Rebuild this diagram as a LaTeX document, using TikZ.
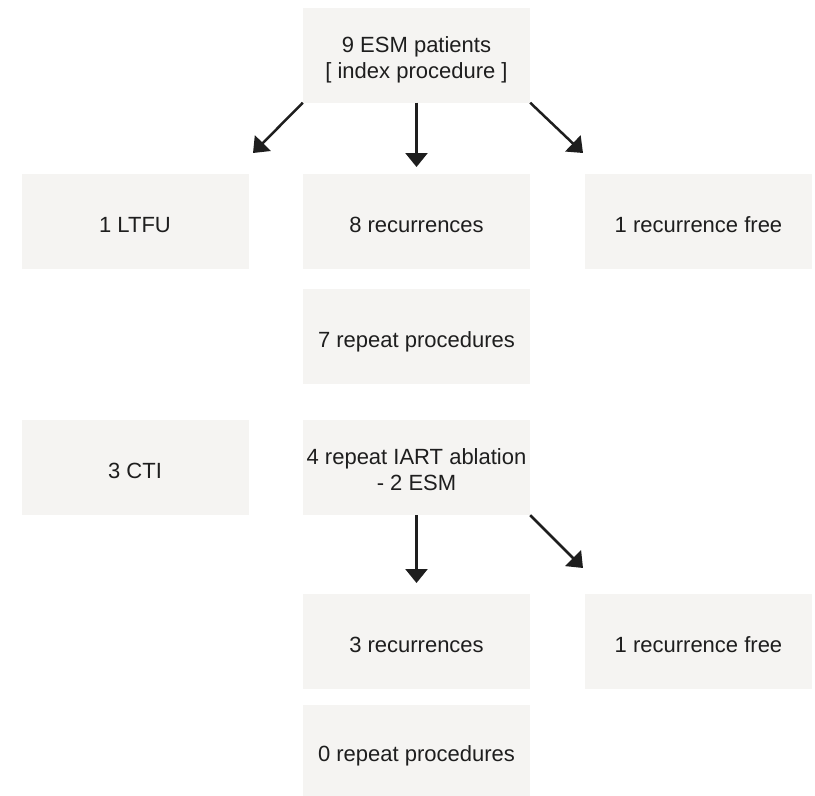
\documentclass[tikz,border=0pt]{standalone}
\usepackage{fontspec}
\setmainfont{Liberation Sans}
\usetikzlibrary{arrows.meta}
\definecolor{boxfill}{HTML}{F5F4F2}
\definecolor{ink}{HTML}{1E1E1E}
\tikzset{
  flowbox/.style={rectangle, fill=boxfill, draw=none, minimum width=227pt,
    minimum height=95pt, inner sep=0pt, text=ink, align=center,
    font=\fontsize{22}{26}\selectfont, text height=26pt, text depth=4pt},
  twoline/.style={text height=#1, text depth=5pt},
  flowarrow/.style={draw=ink, line width=2.5pt,
    -{Triangle[length=14pt,width=22pt]}}
}
\begin{document}
\begin{tikzpicture}[x=1pt,y=-1pt]
  \useasboundingbox (0,0) rectangle (815,796);

  % boxes
  \node[flowbox, twoline=52pt] (top) at (416.5,55) {9 ESM patients\\{}[ index procedure ]};
  \node[flowbox] (ltfu)  at (135,221)   {1 LTFU};
  \node[flowbox] (rec8)  at (416.5,221) {8 recurrences};
  \node[flowbox] (free1) at (698.5,221) {1 recurrence free};
  \node[flowbox] (rep7)  at (416.5,336) {7 repeat procedures};
  \node[flowbox] (cti)   at (135,467.5) {3 CTI};
  \node[flowbox, twoline=50pt] (rep4) at (416.5,467.5) {4 repeat IART ablation\\- 2 ESM};
  \node[flowbox] (rec3)  at (416.5,641) {3 recurrences};
  \node[flowbox] (free2) at (698.5,641) {1 recurrence free};
  \node[flowbox, minimum height=91pt] (rep0) at (416.5,750.5) {0 repeat procedures};

  % arrow ends
  \coordinate (aL) at (253,153);
  \coordinate (aM) at (416.5,167);
  \coordinate (aR) at (583,153);
  \coordinate (bM) at (416.5,583);
  \coordinate (bR) at (583,568);

  % arrows
  \draw[flowarrow] (top.south west) -- (aL);
  \draw[flowarrow] (top.south) -- (aM);
  \draw[flowarrow] (top.south east) -- (aR);
  \draw[flowarrow] (rep4.south) -- (bM);
  \draw[flowarrow] (rep4.south east) -- (bR);
\end{tikzpicture}
\end{document}
